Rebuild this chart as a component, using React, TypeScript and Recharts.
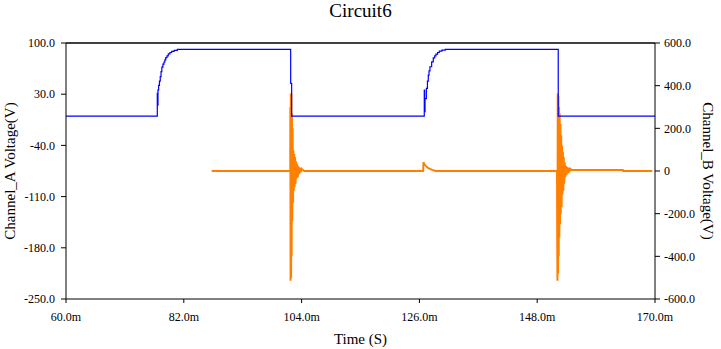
import { LineChart, Line, XAxis, YAxis, ReferenceLine } from 'recharts';

// Channel A (blue, left axis) - stepped trace, time in ms
const channelATime = [
  60, 77.05, 77.1, 77.18, 77.3, 77.45, 77.6, 77.75, 77.9, 78.1, 78.3, 78.46, 78.62, 78.86,
  79.1, 79.42, 79.74, 80.2, 80.79, 101.96, 102.14,
  126.91, 126.97, 127.05, 127.3, 127.5, 127.66, 127.8, 127.97, 128.29, 128.59, 128.85,
  129.09, 129.4, 129.71, 130.2, 130.83, 151.93, 170,
];
const channelAVolts = [
  0, 31, 15, 36, 42, 48, 54, 61, 67, 71, 74, 77, 80, 82.5,
  85, 87, 88.6, 90, 91.3, 44.7, 0,
  35.5, 6, 24, 38, 48, 56, 62, 67.5, 74.3, 79.8, 82.5,
  84.9, 87, 89, 90.3, 91.3, 0, 0,
];

// Channel B (orange, right axis)
const channelBTime = [
  87.2, 101.88, 101.9, 101.94, 101.99, 102.04, 102.09, 102.14, 102.2, 102.26, 102.33, 102.4,
  102.47, 102.54, 102.62, 102.7, 102.78, 102.87, 102.96, 103.06, 103.17, 103.29, 103.42,
  103.56, 103.7, 103.86, 104.02, 104.32, 104.5,
  126.7, 126.75, 126.85, 127.0, 127.2, 127.36, 127.6, 127.97, 128.4, 128.9, 129.0,
  151.7, 151.74, 151.78, 151.84, 151.9, 151.96, 152.02, 152.08, 152.14, 152.2, 152.27,
  152.34, 152.41, 152.48, 152.56, 152.64, 152.72, 152.8, 152.88, 152.96, 153.05, 153.14,
  153.24, 153.35, 153.47, 153.6, 153.73, 153.87, 154.02, 154.2, 154.43, 164.0, 164.05, 169.5,
];
const channelBVolts = [
  0, 0, 300, -515, 363, -500, 363, -400, 269, -233, 200, -150,
  96, -92, 80, -75, 65, -60, 45, -35, 34, -29, 22,
  -15, 15, -5, 10, 3, 0,
  0, 41, 36, 30, 24, 20, 14, 10, 5, 1, 0,
  0, -300, -515, 363, -480, 350, -400, 300, -311, 269, -250,
  220, -200, 167, -170, 120, -110, 90, -92, 65, -60, 40,
  -29, 26, -20, 18, -10, 15, -5, 10, 5, 5, 0, 0,
];

const timeTicks = [60, 82, 104, 126, 148, 170];
const channelATicks = [-250, -180, -110, -40, 30, 100];
const channelBTicks = [-600, -400, -200, 0, 200, 400, 600];

const dataA = channelATime.map((t, i) => ({ t, a: channelAVolts[i] }));
const dataB = channelBTime.map((t, i) => ({ t, b: channelBVolts[i] }));

const FONT = '"Liberation Serif", "Times New Roman", serif';
const labelStyle = { fill: '#000', fontSize: 15, fontFamily: FONT, textAnchor: 'middle' };

const fmtTime = (v: number) => `${v.toFixed(1)}m`;
const fmtA = (v: number) => v.toFixed(1);
const fmtB = (v: number) => (v === 0 ? '0' : v.toFixed(1));

function makeTick(fmt: (v: number) => string, anchor: 'start' | 'middle' | 'end', dy: string) {
  return (props: any) => (
    <text
      x={props.x}
      y={props.y}
      dy={dy}
      textAnchor={anchor}
      fill="#000"
      fontSize={12}
      fontFamily={FONT}
    >
      {fmt(props.payload.value)}
    </text>
  );
}

export default function App() {
  return (
    <div style={{ position: 'absolute', left: 0, top: 0, width: 721, height: 349, fontFamily: FONT }}>
      <div
        style={{
          position: 'absolute',
          top: 0,
          left: 0,
          width: 721,
          textAlign: 'center',
          fontSize: 19,
          lineHeight: '22px',
          color: '#000',
        }}
      >
        Circuit6
      </div>
      <LineChart width={721} height={349} margin={{ top: 43, right: 0, bottom: 0, left: 0 }}>
        <XAxis
          type="number"
          dataKey="t"
          domain={[60, 170]}
          ticks={timeTicks}
          allowDataOverflow
          height={50}
          stroke="#000"
          tickSize={4}
          tickMargin={9}
          tick={makeTick(fmtTime, 'middle', '0.71em')}
          label={{ value: 'Time (S)', position: 'insideBottom', offset: 5, style: labelStyle }}
        />
        <YAxis
          yAxisId="a"
          orientation="left"
          type="number"
          domain={[-250, 100]}
          ticks={channelATicks}
          allowDataOverflow
          width={66}
          stroke="#000"
          tickSize={5}
          tickMargin={6}
          tick={makeTick(fmtA, 'end', '0.355em')}
          label={{ value: 'Channel_A Voltage(V)', angle: -90, position: 'center', dx: -23, style: labelStyle }}
        />
        <YAxis
          yAxisId="b"
          orientation="right"
          type="number"
          domain={[-600, 600]}
          ticks={channelBTicks}
          allowDataOverflow
          width={66}
          stroke="#000"
          tickSize={5}
          tickMargin={4}
          tick={makeTick(fmtB, 'start', '0.355em')}
          label={{ value: 'Channel_B Voltage(V)', angle: 90, position: 'center', dx: 20, style: labelStyle }}
        />
        <ReferenceLine yAxisId="a" y={100} stroke="#000" strokeWidth={1.5} />
        <Line
          yAxisId="b"
          data={dataB}
          dataKey="b"
          type="linear"
          stroke="#ff8000"
          strokeWidth={2}
          dot={false}
          isAnimationActive={false}
        />
        <Line
          yAxisId="a"
          data={dataA}
          dataKey="a"
          type="stepAfter"
          stroke="#0000ff"
          strokeWidth={1.2}
          dot={false}
          isAnimationActive={false}
        />
      </LineChart>
    </div>
  );
}
